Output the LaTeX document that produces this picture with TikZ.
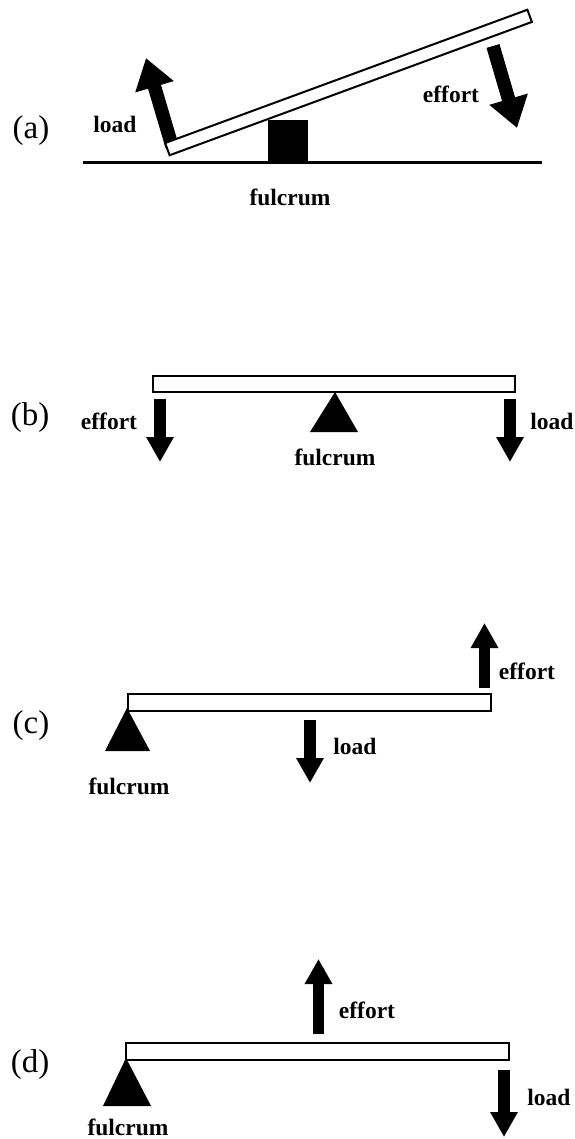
\documentclass[tikz,border=0pt]{standalone}
\usepackage{fontspec}
\setmainfont{Liberation Serif}
\usetikzlibrary{arrows.meta}
\begin{document}
\begin{tikzpicture}[x=1pt,y=-1pt,
  beam/.style={draw=black, fill=white, line width=2pt, inner sep=0pt, outer sep=0pt, minimum height=15pt},
  force/.style={line width=11.5pt, -{Triangle[length=25pt,width=26pt]}},
  bigforce/.style={line width=13.5pt, -{Triangle[length=30pt,width=38pt]}},
  lbl/.style={font=\fontsize{23.5}{26}\selectfont\bfseries, inner sep=0pt},
  panel/.style={font=\fontsize{33}{36}\selectfont, inner sep=0pt},
  pivot/.style={fill=black}]
\useasboundingbox (0,0) rectangle (574,1139);

% ---------- (a) ----------
\node[panel] (la) at (31,131) {(a)};
\coordinate (aLoadS) at (172,146);
\coordinate (aLoadT) at (146,58);
\draw[bigforce] (aLoadS) -- (aLoadT);
\fill[pivot] (268,120) rectangle (308,163);
\node[beam, minimum width=386pt, minimum height=13pt, rotate=20.2] (beamA) at (348.5,82.5) {};
\coordinate (gL) at (83,163);
\coordinate (gR) at (542,163);
\draw[line width=3pt] (gL) -- (gR);
\coordinate (aEffS) at (493,46);
\coordinate (aEffT) at (517,128);
\draw[bigforce] (aEffS) -- (aEffT);
\node[lbl] (aload) at (115,124) {load};
\node[lbl] (aeffort) at (451,94) {effort};
\node[lbl] (afulcrum) at (290,197) {fulcrum};

% ---------- (b) ----------
\node[panel] (lb) at (30,418) {(b)};
\fill[pivot] (335,392) -- (358,432) -- (310,432) -- cycle;
\node[beam, minimum width=362pt, minimum height=16pt] (beamB) at (334,384) {};
\coordinate (bEffS) at (160,399);
\coordinate (bEffT) at (160,462);
\draw[force] (bEffS) -- (bEffT);
\coordinate (bLoadS) at (510,399);
\coordinate (bLoadT) at (510,462);
\draw[force] (bLoadS) -- (bLoadT);
\node[lbl] (beffort) at (109,421) {effort};
\node[lbl] (bload) at (552,421) {load};
\node[lbl] (bfulcrum) at (335,457) {fulcrum};

% ---------- (c) ----------
\node[panel] (lc) at (31,726) {(c)};
\fill[pivot] (127,708) -- (150,751) -- (105,751) -- cycle;
\node[beam, minimum width=363pt, minimum height=17pt] (beamC) at (309.5,702.5) {};
\coordinate (cLoadS) at (310,720);
\coordinate (cLoadT) at (310,783);
\draw[force] (cLoadS) -- (cLoadT);
\coordinate (cEffS) at (484.5,688);
\coordinate (cEffT) at (484.5,623);
\draw[force] (cEffS) -- (cEffT);
\node[lbl] (cload) at (355,746) {load};
\node[lbl] (ceffort) at (527,671) {effort};
\node[lbl] (cfulcrum) at (129,786) {fulcrum};

% ---------- (d) ----------
\node[panel] (ld) at (30,1065) {(d)};
\fill[pivot] (126,1058) -- (151,1106) -- (103,1106) -- cycle;
\node[beam, minimum width=383pt, minimum height=17pt] (beamD) at (317.5,1051) {};
\coordinate (dEffS) at (318.5,1034);
\coordinate (dEffT) at (318.5,959);
\draw[force] (dEffS) -- (dEffT);
\coordinate (dLoadS) at (504,1070);
\coordinate (dLoadT) at (504,1137);
\draw[force] (dLoadS) -- (dLoadT);
\node[lbl] (deffort) at (367,1010) {effort};
\node[lbl] (dload) at (549,1097) {load};
\node[lbl] (dfulcrum) at (128,1127) {fulcrum};
\end{tikzpicture}
\end{document}
